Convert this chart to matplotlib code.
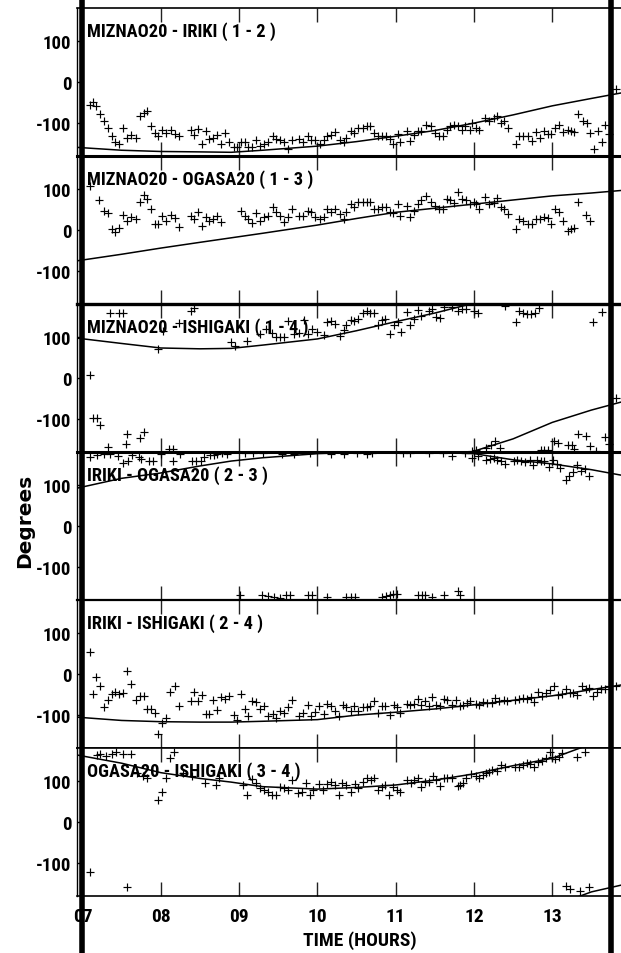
import numpy as np
import matplotlib
matplotlib.use("Agg")
import matplotlib.pyplot as plt
from matplotlib.lines import Line2D
from matplotlib.transforms import blended_transform_factory

plt.rcParams['font.family'] = ['Roboto Condensed', 'DejaVu Sans']
plt.rcParams['font.weight'] = 'bold'

titles = ["MIZNAO20 - IRIKI ( 1 - 2 )", "MIZNAO20 - OGASA20 ( 1 - 3 )",
          "MIZNAO20 - ISHIGAKI ( 1 - 4 )", "IRIKI - OGASA20 ( 2 - 3 )",
          "IRIKI - ISHIGAKI ( 2 - 4 )", "OGASA20 - ISHIGAKI ( 3 - 4 )"]
xticks = [7, 8, 9, 10, 11, 12, 13]
xticklabels = ["07", "08", "09", "10", "11", "12", "13"]
yticks = [100, 0, -100]

# ---- observed phase differences (hours, degrees) ----
t1 = [7.09,7.13,7.17,7.22,7.27,7.32,7.38,7.42,7.47,7.52,
      7.57,7.62,7.68,7.73,7.78,7.82,7.87,7.92,7.97,8.02,
      8.07,8.13,8.18,8.23,8.38,8.43,8.48,8.53,8.58,8.62,
      8.67,8.72,8.77,8.82,8.87,8.93,8.97,9.03,9.08,9.12,
      9.17,9.22,9.27,9.32,9.37,9.43,9.47,9.52,9.57,9.62,
      9.67,9.77,9.82,9.88,9.92,9.97,10.03,10.08,10.12,10.17,
      10.23,10.29,10.34,10.37,10.43,10.47,10.52,10.58,10.63,10.67,
      10.72,10.77,10.83,10.88,10.93,10.97,11.03,11.05,11.15,11.18,
      11.23,11.28,11.32,11.39,11.45,11.50,11.55,11.60,11.65,11.70,
      11.74,11.79,11.85,11.88,11.95,11.98,12.03,12.07,12.14,12.19,
      12.25,12.29,12.34,12.39,12.44,12.54,12.58,12.63,12.69,12.74,
      12.79,12.84,12.89,12.94,12.99,13.04,13.09,13.14,13.20,13.24,
      13.28,13.33,13.39,13.44,13.48,13.53,13.58,13.63,13.68,13.73,
      13.82]
v1 = [-56,-48,-58,-78,-96,-113,-132,-147,-150,-113,
      -137,-130,-137,-83,-75,-70,-108,-124,-132,-116,
      -124,-116,-126,-132,-116,-130,-115,-150,-120,-138,
      -136,-130,-151,-124,-145,-159,-159,-145,-145,-157,
      -159,-142,-155,-151,-147,-131,-138,-142,-146,-164,
      -142,-138,-146,-132,-140,-142,-151,-142,-131,-130,
      -122,-140,-147,-136,-120,-124,-113,-111,-108,-108,
      -124,-131,-131,-131,-138,-151,-126,-146,-120,-144,
      -130,-120,-120,-105,-108,-124,-131,-131,-116,-108,
      -105,-108,-116,-108,-116,-100,-111,-116,-88,-96,
      -88,-83,-100,-96,-111,-151,-131,-132,-132,-144,
      -122,-136,-120,-126,-126,-113,-105,-122,-116,-120,
      -122,-78,-95,-100,-124,-163,-120,-147,-105,-126,
      -17]

t2 = [7.09,7.21,7.27,7.32,7.38,7.42,7.47,7.52,7.57,7.62,
      7.68,7.73,7.78,7.82,7.87,7.92,7.97,8.02,8.07,8.13,
      8.18,8.23,8.38,8.43,8.48,8.53,8.58,8.62,8.67,8.72,
      8.77,9.03,9.08,9.12,9.17,9.22,9.27,9.32,9.37,9.43,
      9.47,9.52,9.57,9.62,9.67,9.77,9.82,9.88,9.92,9.97,
      10.03,10.08,10.12,10.17,10.23,10.29,10.34,10.37,10.43,10.47,
      10.52,10.58,10.63,10.67,10.72,10.77,10.83,10.88,10.93,10.97,
      11.03,11.05,11.15,11.18,11.23,11.28,11.32,11.39,11.45,11.50,
      11.55,11.60,11.65,11.70,11.74,11.80,11.85,11.90,11.95,12.00,
      12.03,12.07,12.14,12.19,12.25,12.29,12.34,12.39,12.44,12.54,
      12.58,12.63,12.69,12.74,12.79,12.84,12.89,12.94,12.99,13.04,
      13.09,13.14,13.20,13.24,13.28,13.33,13.43,13.48]
v2 = [108,74,47,41,2,-6,6,37,22,31,
      27,67,85,76,50,15,15,33,21,37,
      29,7,35,26,44,9,31,23,26,35,
      19,47,35,26,18,42,23,31,33,57,
      45,35,20,31,50,35,35,47,45,31,
      27,31,50,45,50,39,27,43,63,55,
      67,67,67,67,52,50,55,55,45,42,
      63,35,59,31,47,63,74,83,69,59,
      50,51,76,74,66,93,76,74,63,69,
      63,50,81,63,66,79,55,51,39,3,
      26,23,15,15,27,26,31,29,15,50,
      43,21,-3,3,5,69,37,23]

t3 = [7.09,7.14,7.18,7.22,7.32,7.35,7.47,7.52,7.55,7.57,
      7.73,7.78,7.97,8.03,8.10,8.15,8.23,8.38,8.43,8.90,
      8.95,9.10,9.27,9.35,9.42,9.47,9.52,9.57,9.63,9.70,
      9.77,9.83,9.88,9.93,10.00,10.08,10.12,10.17,10.23,10.29,
      10.34,10.37,10.43,10.47,10.52,10.58,10.63,10.67,10.72,10.77,
      10.83,10.87,10.93,10.98,11.03,11.07,11.15,11.18,11.23,11.28,
      11.32,11.43,11.47,11.52,11.57,11.62,11.72,11.80,11.85,11.90,
      11.97,12.00,12.03,12.05,12.15,12.22,12.27,12.33,12.40,12.54,
      12.58,12.63,12.68,12.73,12.78,12.83,12.85,12.90,12.95,13.02,
      13.07,13.20,13.25,13.28,13.33,13.43,13.48,13.52,13.56,13.63,
      13.67,13.72,13.82]
v3 = [7,-98,-98,-115,-168,158,158,158,-160,-135,
      -146,-131,70,115,-172,-172,134,164,170,88,
      78,90,107,118,110,100,100,100,138,107,
      109,140,107,118,112,105,137,139,131,103,
      117,128,141,139,143,157,163,157,157,128,
      141,144,106,128,137,111,160,128,144,165,
      152,163,167,149,147,172,172,163,169,169,
      -177,163,-176,157,-171,-163,-154,-171,175,137,
      163,157,155,155,159,171,-174,-175,-174,-154,
      -157,-163,-164,-172,-135,-140,-166,137,-177,160,
      -143,-160,-49]

t4 = [7.09,7.18,7.27,7.35,7.45,7.52,7.58,7.63,7.72,7.75,
      7.85,7.90,8.00,8.15,8.25,8.40,8.45,8.52,8.55,8.63,
      8.68,8.72,8.78,8.85,9.01,9.08,9.18,9.29,9.30,9.37,
      9.45,9.52,9.55,9.60,9.65,9.70,9.88,9.90,9.93,10.12,
      10.18,10.34,10.37,10.43,10.48,10.50,10.63,10.70,10.83,10.88,
      10.93,10.97,11.02,11.10,11.18,11.28,11.33,11.38,11.43,11.47,
      11.60,11.62,11.72,11.79,11.82,11.88,11.97,12.00,12.05,12.15,
      12.20,12.25,12.30,12.35,12.40,12.51,12.55,12.60,12.65,12.72,
      12.76,12.81,12.86,12.90,12.96,13.01,13.06,13.10,13.18,13.22,
      13.26,13.32,13.37,13.42,13.47]
v4 = [167,172,176,174,170,153,159,172,168,164,
      158,159,174,159,176,157,159,159,168,172,
      173,175,178,176,-167,178,178,-168,177,-170,
      -173,-174,175,-167,-168,176,-168,177,-167,-173,
      176,176,-173,-173,-173,177,176,178,-173,-170,
      -168,-165,-165,178,177,-168,-168,-168,178,-173,
      177,-168,171,-157,-167,178,166,180,171,160,
      164,166,160,158,150,158,160,157,155,160,
      149,160,157,157,144,160,150,141,113,121,
      131,148,133,139,121]

t5 = [7.09,7.13,7.17,7.22,7.27,7.32,7.38,7.42,7.47,7.52,
      7.57,7.62,7.68,7.73,7.78,7.82,7.87,7.92,7.97,8.02,
      8.07,8.12,8.18,8.23,8.38,8.43,8.48,8.53,8.58,8.62,
      8.67,8.72,8.77,8.82,8.87,8.93,8.97,9.03,9.08,9.12,
      9.17,9.22,9.27,9.32,9.37,9.43,9.47,9.52,9.57,9.62,
      9.67,9.77,9.82,9.88,9.92,9.97,10.02,10.08,10.12,10.17,
      10.23,10.28,10.33,10.37,10.43,10.47,10.52,10.58,10.63,10.67,
      10.72,10.77,10.83,10.87,10.93,10.98,11.02,11.05,11.15,11.18,
      11.23,11.28,11.32,11.37,11.43,11.47,11.52,11.57,11.62,11.66,
      11.72,11.77,11.82,11.86,11.91,11.95,12.02,12.07,12.12,12.17,
      12.23,12.27,12.32,12.38,12.42,12.53,12.58,12.63,12.68,12.73,
      12.77,12.82,12.87,12.92,12.97,13.02,13.07,13.12,13.18,13.23,
      13.27,13.32,13.38,13.43,13.47,13.52,13.57,13.62,13.68,13.73,
      13.82]
v5 = [53,-49,-8,-30,-81,-63,-49,-44,-49,-45,
      8,-24,-63,-53,-53,-84,-84,-95,-146,-118,
      -108,-44,-30,-78,-65,-44,-65,-51,-97,-97,
      -63,-87,-57,-60,-53,-100,-111,-49,-86,-103,
      -65,-69,-84,-79,-102,-97,-106,-90,-94,-81,
      -63,-102,-94,-76,-102,-92,-78,-97,-74,-78,
      -90,-102,-76,-81,-90,-78,-90,-81,-81,-79,
      -65,-94,-78,-78,-100,-76,-81,-95,-74,-76,
      -74,-61,-76,-65,-79,-55,-76,-78,-61,-64,
      -76,-64,-78,-76,-71,-65,-74,-76,-68,-71,
      -70,-58,-65,-63,-65,-63,-60,-58,-61,-55,
      -68,-44,-53,-45,-39,-30,-51,-49,-36,-45,
      -45,-51,-30,-36,-35,-53,-44,-36,-36,-30,
      -29]

t6 = [7.09,7.18,7.22,7.30,7.38,7.43,7.52,7.57,7.62,7.83,
      7.97,8.02,8.07,8.12,8.17,8.57,8.70,8.75,9.05,9.10,
      9.17,9.22,9.27,9.32,9.37,9.42,9.47,9.52,9.57,9.62,
      9.68,9.75,9.80,9.85,9.90,9.95,10.02,10.07,10.12,10.17,
      10.22,10.27,10.32,10.37,10.43,10.48,10.52,10.58,10.63,10.68,
      10.72,10.77,10.82,10.87,10.92,10.97,11.02,11.05,11.15,11.19,
      11.23,11.28,11.32,11.37,11.43,11.48,11.52,11.57,11.62,11.66,
      11.72,11.79,11.82,11.86,11.90,11.96,12.02,12.07,12.11,12.15,
      12.19,12.23,12.30,12.35,12.40,12.53,12.57,12.62,12.68,12.72,
      12.77,12.82,12.87,12.92,12.97,13.00,13.04,13.08,13.13,13.18,
      13.23,13.32,13.36,13.42,13.47,
      7.70,7.77,8.28,8.40]
v6 = [-122,163,165,160,165,170,165,-159,165,106,
      54,73,106,155,170,95,89,106,89,65,
      104,95,82,79,74,65,65,85,82,79,
      103,71,74,95,65,79,93,79,93,98,
      90,66,95,90,74,93,82,98,106,101,
      106,79,85,89,65,85,77,74,101,95,
      101,106,85,97,98,113,101,87,106,106,
      106,87,89,95,106,116,111,106,114,119,
      122,127,125,138,133,133,135,138,143,140,
      135,146,149,155,170,158,153,157,167,-155,
      -163,157,-168,170,-157,
      120,112,118,112]

# ---- model curves (unwrapped degrees at knot hours) ----
line_t = [6.93, 7.5, 8.0, 8.5, 8.9, 9.3, 10.0, 10.5, 11.0, 11.5, 12.0, 12.5, 13.0, 13.5, 13.87]
line1 = [-159, -166, -169, -170, -171, -166, -156, -145, -132, -118, -100, -80, -58, -40, -27]
line2 = [-75, -59, -44, -30, -19, -8, 12, 28, 43, 53, 63, 73, 83, 90, 96]
line3 = [97, 84, 73, 71, 72, 80, 95, 115, 137, 158, 182, 212, 252, 282, 301]
line4 = [92, 116, 129, 146, 158, 166, 176, 179, 179, 179, 176, 161, 151, 137, 124]
line5 = [-105, -113, -116, -117, -117, -115, -111, -100, -93, -85, -75, -64, -53, -38, -27]
line6 = [163, 143, 120, 106, 97, 86, 80, 84, 90, 102, 117, 137, 155, 190, 206]

obs = [(t1, v1), (t2, v2), (t3, v3), (t4, v4), (t5, v5), (t6, v6)]
lines = [line1, line2, line3, line4, line5, line6]

W, H = 621, 954
fig = plt.figure(figsize=(W / 100, H / 100), dpi=100)
left_px, top0, ph = 77, 9, 148
xlim = (6.93, 13.878)
top_lw = [1.2, 2.2, 2.4, 2.2, 1.6, 1.2]

axes = []
for i in range(6):
    top = top0 + ph * i
    ax = fig.add_axes([left_px / W, 1 - (top + ph) / H, (W - left_px) / W, ph / H])
    axes.append(ax)
    t, v = obs[i]
    ax.plot(t, v, linestyle='none', marker='+', markersize=6.3,
            markeredgewidth=0.85, color='black', zorder=3)
    lv = np.array(lines[i], dtype=float)
    for shift in (-360, 0, 360):
        ax.plot(line_t, lv + shift, color='black', linewidth=1.1, zorder=2)
    ax.set_xlim(*xlim)
    ax.set_ylim(-180, 180)
    ax.set_yticks(yticks)
    ax.set_yticklabels([str(y) for y in yticks], fontsize=13.5, fontweight='bold')
    ax.set_xticks(xticks)
    ax.tick_params(axis='x', direction='in', top=True, bottom=True,
                   length=10, width=1, colors='#222222')
    ax.tick_params(axis='y', direction='in', length=4, width=1, pad=4)
    ax.spines['right'].set_visible(False)
    ax.spines['top'].set_linewidth(top_lw[i])
    ax.spines['bottom'].set_linewidth(1.2)
    ax.spines['left'].set_linewidth(1.0)
    if i < 5:
        ax.set_xticklabels([])
    else:
        ax.set_xticklabels(xticklabels, fontsize=14, fontweight='bold')
        ax.tick_params(axis='x', pad=8, labelcolor='black')
    ax.text(0.018, 0.845, titles[i], transform=ax.transAxes, fontsize=13.2,
            fontweight='bold', va='center', ha='left', zorder=5)

# heavy vertical markers spanning the whole figure
tr = blended_transform_factory(axes[0].transData, fig.transFigure)
for xv in (7.0, 13.75):
    fig.add_artist(Line2D([xv, xv], [0, 1], transform=tr, color='black',
                          linewidth=4.0, zorder=10))

fig.text(25 / W, 1 - 521 / H, "Degrees", rotation=90, fontsize=14.5,
         fontweight='bold', family=['DejaVu Sans'], ha='center', va='center')
fig.text(360 / W, 1 - 941 / H, "TIME (HOURS)", fontsize=14,
         fontweight='bold', ha='center', va='center')

fig.savefig("out.png", dpi=100)
